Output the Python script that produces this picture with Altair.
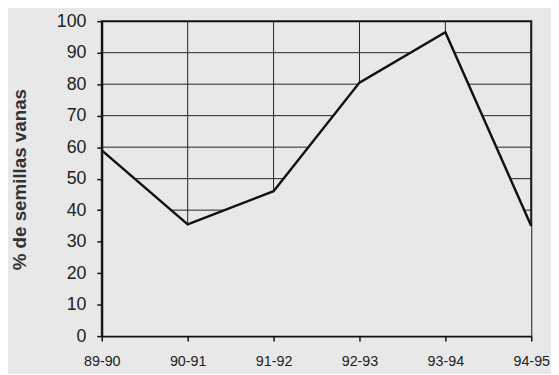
import altair as alt
import pandas as pd

seasons = ["89-90", "90-91", "91-92", "92-93", "93-94", "94-95"]
pct_vanas = [59, 35.5, 46, 80.5, 96.5, 35]
y_ticks = [0, 10, 20, 30, 40, 50, 60, 70, 80, 90, 100]
grid_y = [10, 20, 30, 40, 50, 60, 70, 80, 90]

BG = "#e8e8e8"
FONT = "Liberation Sans"

df = pd.DataFrame({"season": seasons, "pct": pct_vanas})
gy = pd.DataFrame({"pct": grid_y})
gx = pd.DataFrame({"season": seasons})

xscale = alt.Scale(type="point", padding=0, domain=seasons)
yscale = alt.Scale(domain=[0, 100], nice=False)

xaxis = alt.Axis(title=None, labelAngle=0, labelFontSize=14.5,
                 labelPadding=14, tickSize=5, tickWidth=1.5,
                 tickColor="#111", domainColor="#111", domainWidth=2,
                 labelColor="#222", labelFont=FONT, grid=False, zindex=1)
yaxis = alt.Axis(title="% de semillas vanas", values=y_ticks,
                 labelFontSize=18, labelPadding=11, tickSize=5,
                 tickWidth=1.5, tickColor="#111", domainColor="#111",
                 domainWidth=2, labelColor="#222", labelFont=FONT,
                 titleFont=FONT, titleFontSize=19, titleFontWeight="bold",
                 titleColor="#333", titleAngle=-90, titleX=-83,
                 titleY=160, titleAlign="center", titleBaseline="middle",
                 grid=False, zindex=1)

hgrid = alt.Chart(gy).mark_rule(color="#222", strokeWidth=1).encode(
    y=alt.Y("pct:Q", scale=yscale, axis=yaxis)
)
vgrid = alt.Chart(gx).mark_rule(color="#222", strokeWidth=1).encode(
    x=alt.X("season:N", scale=xscale, sort=seasons, axis=xaxis)
)

area = alt.Chart(df).mark_area(
    color=BG, opacity=1,
    line={"color": "#111111", "strokeWidth": 2.5},
).encode(
    x=alt.X("season:N", scale=xscale, sort=seasons, axis=xaxis),
    y=alt.Y("pct:Q", scale=yscale, axis=yaxis),
)

chart = alt.layer(hgrid, vgrid, area).properties(
    width=435, height=319,
    autosize=alt.AutoSizeParams(type="none"),
    padding={"left": 95, "top": 11, "right": 20, "bottom": 36},
    background=BG,
).configure_view(stroke="#111", strokeWidth=2)

chart.save("out.html", embed_options={"renderer": "svg", "actions": False})
